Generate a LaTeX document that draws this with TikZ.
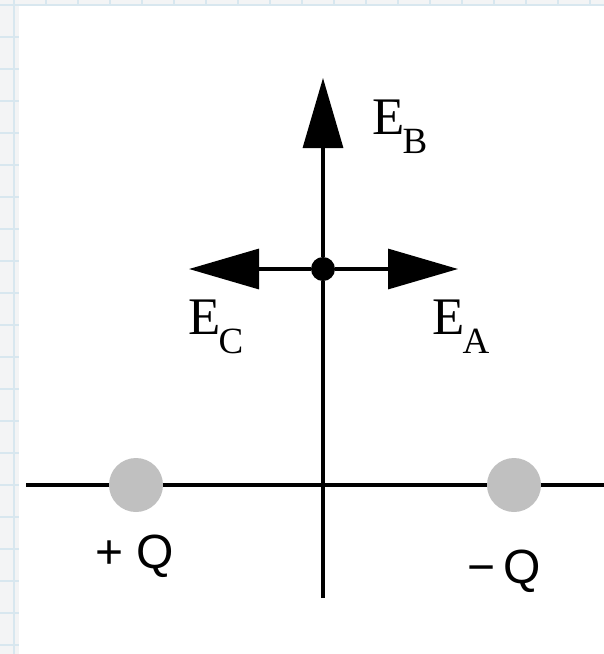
\documentclass[tikz,border=0pt]{standalone}
\usepackage{fontspec}
\setmainfont{Liberation Serif}
\setsansfont{Liberation Sans}
\usetikzlibrary{arrows.meta}
\definecolor{gridblue}{HTML}{D8E7EF}
\definecolor{stripgray}{HTML}{F3F4F5}
\definecolor{chargegray}{HTML}{C0C0C0}
\newcommand{\fieldlbl}[1]{E\hspace{-1pt}\raisebox{-9.5pt}{\fontsize{18.5}{18.5}\selectfont #1}}

\begin{document}
\begin{tikzpicture}[x=0.5pt,y=-0.5pt, every node/.style={inner sep=0pt,font=\fontsize{26.4}{28}\selectfont},
  gridline/.style={gridblue,line width=0.6pt},
  axis/.style={line width=1.6pt},
  field/.style={line width=1.6pt,-{Triangle[length=35pt,width=20pt]}},
  charge/.style={circle,fill=chargegray,minimum size=27pt},
  qlabel/.style={anchor=base west,font=\sffamily\fontsize{24}{26}\selectfont}]
  \useasboundingbox (0,0) rectangle (604,654);
  \fill[stripgray] (0,0) rectangle (604,654);
  \foreach \x in {14,46,...,606} \draw[gridline] (\x,0) -- (\x,654);
  \foreach \y in {5,37,...,654} \draw[gridline] (0,\y) -- (604,\y);
  \fill[white] (19,6) rectangle (604,654);
  \coordinate (xl) at (26,485);
  \coordinate (xr) at (604,485);
  \coordinate (yb) at (323,598);
  \draw[axis] (xl) -- (xr);
  \node[charge] (qpos) at (136,485) {};
  \node[charge] (qneg) at (514,485) {};
  \node[circle,fill,minimum size=12pt] (p) at (323,269) {};
  \draw[axis] (yb) -- (p);
  \foreach \n/\tx/\ty/\lx/\ly in {
    A/458/269/432/334,
    B/323/78/372/134,
    C/189/269/188/334}{
      \coordinate (tip\n) at (\tx,\ty);
      \draw[field] (p) -- (tip\n);
      \node[anchor=base west] (e\n) at (\lx,\ly) {\fieldlbl{\n}};
  }
  \node[qlabel] (lqpos) at (95,568) {+ Q};
  \node[qlabel] (lqneg) at (467,583) {−\,Q};
\end{tikzpicture}
\end{document}
